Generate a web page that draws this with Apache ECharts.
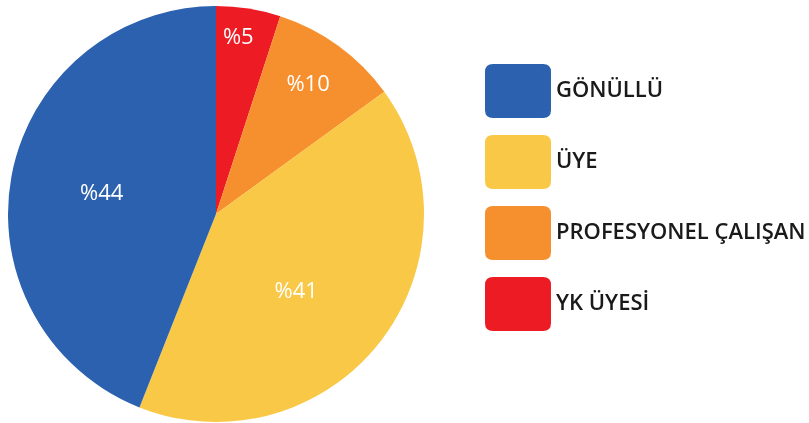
<!DOCTYPE html>
<html><head><meta charset="utf-8">
<script src="https://cdn.jsdelivr.net/npm/echarts@6/dist/echarts.min.js"></script>
<style>html,body{margin:0;padding:0;background:#fff}#c{width:809px;height:423px}</style>
</head><body><div id="c"></div>
<script>
const categories = ['YK ÜYESİ', 'PROFESYONEL ÇALIŞAN', 'ÜYE', 'GÖNÜLLÜ'];
const values = [5, 10, 41, 44];
const labels = ['%5', '%10', '%41', '%44'];
const colors = ['#ED1C24', '#F68F2D', '#F9C846', '#2B61AE'];
const legendOrder = ['GÖNÜLLÜ', 'ÜYE', 'PROFESYONEL ÇALIŞAN', 'YK ÜYESİ'];

const chart = echarts.init(document.getElementById('c'), null, {renderer: 'canvas'});
const FONT = '"Open Sans", "Noto Sans", sans-serif';
const C = [216, 214], R = 208;
const baseData = categories.map((n, i) => ({name: n, value: values[i], itemStyle: {color: colors[i]}}));
function labelSeries(r0, r1, idx, rot) {
  return {
    type: 'pie', center: C, radius: [r0, r1], startAngle: 90 - rot, clockwise: true,
    silent: true, animation: false, legendHoverLink: false,
    data: categories.map((n, i) => ({
      name: n + '_l', value: values[i],
      itemStyle: {color: 'rgba(0,0,0,0)'},
      label: {show: i === idx}
    })),
    label: {position: 'inside', formatter: p => labels[p.dataIndex], color: '#fff',
      fontFamily: FONT, fontSize: 22, fontWeight: 500},
    labelLine: {show: false}
  };
}
const rr = 'path://M8,0 L58,0 Q66,0 66,8 L66,46 Q66,54 58,54 L8,54 Q0,54 0,46 L0,8 Q0,0 8,0 Z';
chart.setOption({
  animation: false,
  legend: {
    data: legendOrder, orient: 'vertical', left: 485, top: 64, padding: 0,
    itemWidth: 66, itemHeight: 54, itemGap: 17, icon: rr,
    textStyle: {fontFamily: FONT, fontSize: 22, fontWeight: 600, color: '#1a1a1a'},
    selectedMode: false
  },
  series: [
    {type: 'pie', center: C, radius: [0, R], startAngle: 90, clockwise: true,
     data: baseData, label: {show: false}, labelLine: {show: false},
     itemStyle: {borderWidth: 0}},
    labelSeries(142, 208, 0, -1.8),
    labelSeries(104, 208, 1, -0.6),
    labelSeries(0, 218, 2, 6.5),
    labelSeries(0, 226, 3, -0.9)
  ]
});
</script></body></html>
